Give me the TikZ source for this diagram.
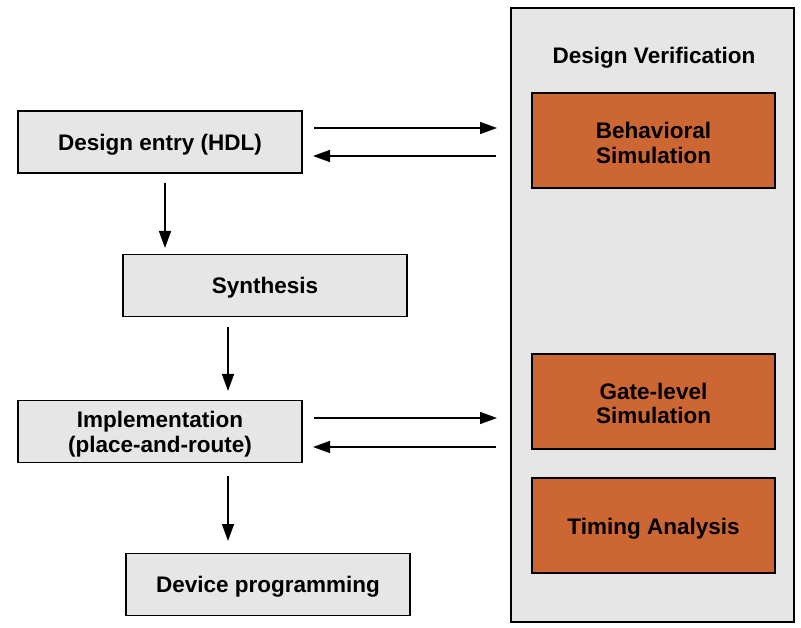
\documentclass[tikz,border=0pt]{standalone}
\usepackage{fontspec}
\setmainfont{Liberation Sans}
\usetikzlibrary{arrows.meta}
\definecolor{boxgray}{HTML}{E6E6E6}
\definecolor{simorange}{HTML}{CC6633}
\newcommand\lowtext[2][-3.5pt]{\raisebox{#1}[\height][\depth]{\begin{tabular}{@{}c@{}}#2\end{tabular}}}
\begin{document}
\begin{tikzpicture}[x=1pt,y=-1pt,
  every node/.style={font=\bfseries\fontsize{22.5}{25}\selectfont, align=center, inner sep=0pt},
  stepbox/.style={draw=black, line width=1.6pt, fill=boxgray, minimum width=284pt, minimum height=62pt},
  simbox/.style={draw=black, line width=1.6pt, fill=simorange, minimum width=243pt, minimum height=95pt},
  flow/.style={line width=1.5pt, -{Triangle[length=17pt,width=12pt]}}]
\useasboundingbox (0,0) rectangle (801,628);
\node[draw=black, line width=1.6pt, fill=boxgray, minimum width=283pt, minimum height=614pt] (panel) at (652.5,315) {};
\node (title) at (654,58) {Design Verification};
\node[simbox] (beh) at (653.5,140.5) {\lowtext[-5.5pt]{Behavioral\\Simulation}};
\node[simbox] (gate) at (653.5,401.5) {\lowtext[-5pt]{Gate-level\\Simulation}};
\node[simbox] (timing) at (653.5,525.5) {\lowtext{Timing Analysis}};
\node[stepbox] (entry) at (160,142) {\lowtext{Design entry (HDL)}};
\node[stepbox] (synth) at (265,285.5) {\lowtext{Synthesis}};
\node[stepbox] (impl) at (160,431.5) {\lowtext[-3.5pt]{Implementation\\(place-and-route)}};
\node[stepbox] (dev) at (268,584.5) {\lowtext[-2.5pt]{Device programming}};
\coordinate (e1s) at (314,128); \coordinate (e1t) at (497,128);
\coordinate (e2s) at (496,156); \coordinate (e2t) at (313,156);
\coordinate (i1s) at (314,418); \coordinate (i1t) at (497,418);
\coordinate (i2s) at (496,447); \coordinate (i2t) at (313,447);
\coordinate (v1s) at (165,183); \coordinate (v1t) at (165,248);
\coordinate (v2s) at (228,327); \coordinate (v2t) at (228,391);
\coordinate (v3s) at (228,476); \coordinate (v3t) at (228,541);
\draw[flow] (e1s) -- (e1t);
\draw[flow] (e2s) -- (e2t);
\draw[flow] (i1s) -- (i1t);
\draw[flow] (i2s) -- (i2t);
\draw[flow] (v1s) -- (v1t);
\draw[flow] (v2s) -- (v2t);
\draw[flow] (v3s) -- (v3t);
\end{tikzpicture}
\end{document}
